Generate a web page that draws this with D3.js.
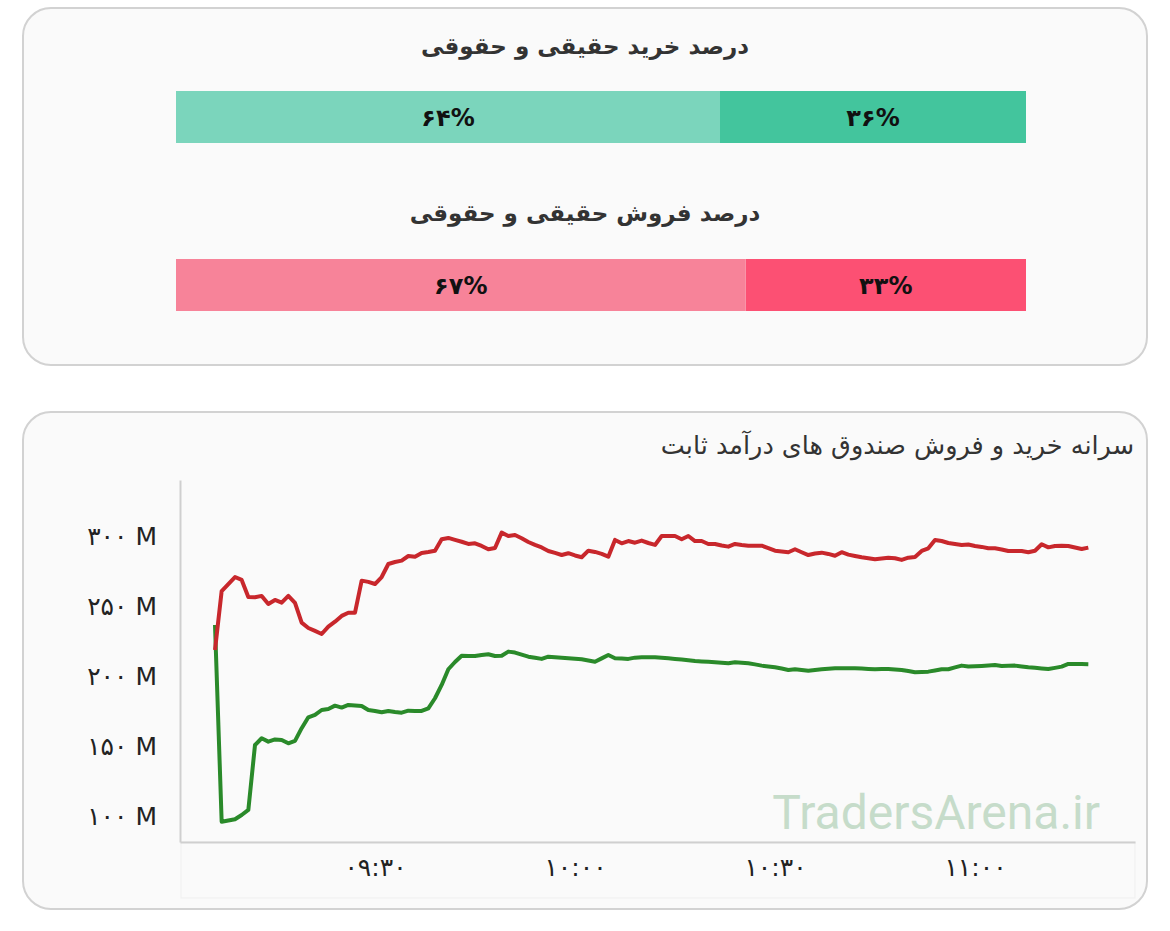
<!DOCTYPE html>
<html>
<head>
<meta charset="utf-8">
<script src="https://cdn.jsdelivr.net/npm/d3@7/dist/d3.min.js"></script>
<style>
  body { margin: 0; background: #fff; }
  svg { display: block; }
</style>
</head>
<body>
<svg id="chart" width="1170" height="931"></svg>
<script>
// share bars (percent, right-to-left)
var buyTitle = "درصد خرید حقیقی و حقوقی";
var sellTitle = "درصد فروش حقیقی و حقوقی";
var buyShares = [36, 64];
var sellShares = [33, 67];

// per-capita line chart, one value per minute starting 09:06 (million rials)
var lineTitle = "سرانه خرید و فروش صندوق های درآمد ثابت";
var startTime = "09:06";
var perCapitaSell = [
  219.3, 261.4, 266.4, 271.4, 269.3, 257.1, 257.0, 257.9, 252.1, 255.0,
  253.1, 257.9, 252.9, 238.8, 235.0, 232.9, 230.7, 235.9, 239.5, 243.6,
  245.9, 245.9, 268.8, 267.9, 266.4, 271.4, 280.7, 282.1, 283.1, 286.4,
  285.9, 288.6, 289.3, 290.2, 298.4, 299.3, 297.9, 296.6, 295.0, 295.5,
  293.6, 291.2, 292.1, 303.1, 300.7, 301.4, 299.1, 296.4, 294.3, 292.5,
  290.0, 288.6, 287.1, 288.4, 286.8, 285.5, 290.2, 289.3, 287.9, 285.9,
  297.9, 295.5, 297.1, 295.9, 297.4, 295.7, 294.3, 300.7, 300.7, 300.7,
  298.4, 300.7, 297.1, 297.1, 295.0, 295.0, 293.9, 293.1, 295.0, 294.3,
  293.8, 293.8, 293.8, 292.1, 290.2, 289.6, 289.1, 291.2, 289.1, 287.1,
  288.2, 288.8, 287.9, 286.6, 289.1, 287.4, 286.4, 285.5, 284.8, 284.1,
  284.6, 285.2, 284.8, 283.6, 285.2, 285.7, 290.0, 291.9, 297.9, 297.1,
  295.7, 295.0, 294.3, 294.6, 293.6, 292.9, 291.9, 291.9, 291.1, 290.0,
  290.0, 290.0, 289.1, 290.2, 294.8, 292.6, 293.6, 293.8, 293.6, 292.5,
  291.4, 292.4
];
var perCapitaBuy = [
  237.1,  96.6,  97.5,  98.4, 101.4, 105.0, 151.4, 156.2, 153.8, 155.4,
  155.0, 152.6, 154.3, 163.4, 171.2, 172.9, 176.4, 177.1, 179.5, 178.1,
  180.0, 179.6, 179.3, 176.4, 175.7, 174.8, 175.7, 175.0, 174.5, 175.9,
  175.7, 175.7, 177.6, 184.8, 194.3, 205.5, 210.7, 215.2, 215.0, 215.0,
  215.7, 216.2, 215.0, 215.2, 218.1, 217.4, 216.0, 214.5, 213.7, 212.9,
  214.5, 214.1, 213.8, 213.4, 213.0, 212.6, 211.8, 210.9, 213.3, 215.7,
  213.4, 213.2, 212.9, 213.8, 214.0, 214.1, 214.1, 213.7, 213.3, 212.9,
  212.4, 211.9, 211.4, 211.1, 210.8, 210.5, 210.1, 209.8, 210.5, 210.1,
  209.8, 209.0, 208.1, 207.5, 206.9, 206.0, 205.0, 205.5, 205.0, 204.5,
  205.0, 205.5, 205.9, 206.2, 206.2, 206.2, 206.2, 206.0, 205.7, 205.5,
  205.6, 205.7, 205.3, 205.0, 204.2, 203.4, 203.6, 203.8, 204.6, 205.5,
  205.5, 206.8, 208.1, 207.4, 207.6, 207.9, 208.2, 208.6, 207.9, 208.0,
  208.1, 207.5, 206.9, 206.5, 206.1, 205.7, 206.5, 207.4, 209.3, 209.2,
  209.2, 209.1
];
var yTicks = [100, 150, 200, 250, 300];
var xTicks = ["09:30", "10:00", "10:30", "11:00"];
var xRange = ["09:00:45", "11:24:00"];
var watermark = "TradersArena.ir";

var faDigits = "۰۱۲۳۴۵۶۷۸۹";
function fa(s) { return String(s).replace(/\d/g, function(d) { return faDigits[+d]; }); }

var parseTime = d3.timeParse("%H:%M");
var parseSec = d3.timeParse("%H:%M:%S");
var fontFa = "'DejaVu Sans', sans-serif";

var svg = d3.select("#chart");

// cards
svg.append("rect").attr("x", 23).attr("y", 8).attr("width", 1124).attr("height", 357)
  .attr("rx", 28).attr("fill", "#fafafa").attr("stroke", "#d2d2d2").attr("stroke-width", 2);
svg.append("rect").attr("x", 23).attr("y", 412).attr("width", 1124).attr("height", 497)
  .attr("rx", 28).attr("fill", "#fafafa").attr("stroke", "#d2d2d2").attr("stroke-width", 2);

// ---- share bars ----
var xPct = d3.scaleLinear().domain([0, 100]).range([1026, 176]);

function shareBar(title, shares, colors, titleY, barY) {
  svg.append("text")
    .attr("x", 585).attr("y", titleY)
    .attr("text-anchor", "middle")
    .style("font-family", fontFa).style("font-weight", "bold").style("font-size", "23px")
    .attr("fill", "#333")
    .text(title);

  var acc = 0;
  var segs = shares.map(function(v, i) {
    var s = { start: acc, end: acc + v, v: v, c: colors[i] };
    acc += v;
    return s;
  });
  var g = svg.append("g");
  g.selectAll("rect").data(segs).enter().append("rect")
    .attr("x", function(d) { return xPct(d.end); })
    .attr("y", barY)
    .attr("width", function(d) { return xPct(d.start) - xPct(d.end); })
    .attr("height", 52)
    .attr("fill", function(d) { return d.c; });
  g.selectAll("text").data(segs).enter().append("text")
    .attr("x", function(d) { return xPct((d.start + d.end) / 2); })
    .attr("y", barY + 35)
    .attr("text-anchor", "middle")
    .style("font-family", fontFa).style("font-weight", "bold").style("font-size", "24px")
    .attr("fill", "#111")
    .text(function(d) { return fa(d.v) + "%"; });
}

shareBar(buyTitle, buyShares, ["#43c59d", "#7bd5bc"], 54, 91);
shareBar(sellTitle, sellShares, ["#fc5073", "#f78399"], 221, 259);

// ---- line chart ----
svg.append("text")
  .attr("x", 1134).attr("y", 454)
  .attr("text-anchor", "end")
  .style("font-family", fontFa).style("font-size", "25.5px")
  .attr("fill", "#333")
  .text(lineTitle);

var t0 = parseTime(startTime);
var times = perCapitaSell.map(function(v, i) { return d3.timeMinute.offset(t0, i); });

var x = d3.scaleTime().domain(xRange.map(parseSec)).range([180, 1135]);
var y = d3.scaleLinear().domain([82.1, 340.7]).range([842, 480]);

// x-axis band
svg.append("rect").attr("x", 181).attr("y", 842).attr("width", 954).attr("height", 56)
  .attr("fill", "none").attr("stroke", "#efefef").attr("stroke-width", 1);

svg.append("text")
  .attr("x", 1100).attr("y", 829)
  .attr("text-anchor", "end")
  .style("font-family", "Roboto, sans-serif").style("font-size", "48px")
  .attr("fill", "#c6dcca")
  .text(watermark);

var yAxis = d3.axisLeft(y).tickValues(yTicks).tickSize(0).tickPadding(22)
  .tickFormat(function(d) { return fa(d) + " M"; });
var gy = svg.append("g").attr("transform", "translate(180,0)").call(yAxis);
gy.select(".domain").attr("stroke", "#cfcfcf").attr("stroke-width", 2);
gy.selectAll("text").style("font-family", fontFa).style("font-size", "25px")
  .style("letter-spacing", "1px").attr("fill", "#222");

var xAxis = d3.axisBottom(x).tickValues(xTicks.map(parseTime)).tickSize(0).tickPadding(16)
  .tickFormat(function(d) { return fa(d3.timeFormat("%H:%M")(d)); });
var gx = svg.append("g").attr("transform", "translate(0,842)").call(xAxis);
gx.select(".domain").attr("stroke", "#cfcfcf").attr("stroke-width", 2);
gx.selectAll("text").style("font-family", fontFa).style("font-size", "25px")
  .style("letter-spacing", "2px").attr("fill", "#222");

var line = d3.line()
  .x(function(d, i) { return x(times[i]); })
  .y(function(d) { return y(d); });

svg.append("path").datum(perCapitaBuy)
  .attr("d", line).attr("fill", "none")
  .attr("stroke", "#2a8a2a").attr("stroke-width", 4).attr("stroke-linejoin", "round");
svg.append("path").datum(perCapitaSell)
  .attr("d", line).attr("fill", "none")
  .attr("stroke", "#c8272c").attr("stroke-width", 4).attr("stroke-linejoin", "round");
</script>
</body>
</html>
